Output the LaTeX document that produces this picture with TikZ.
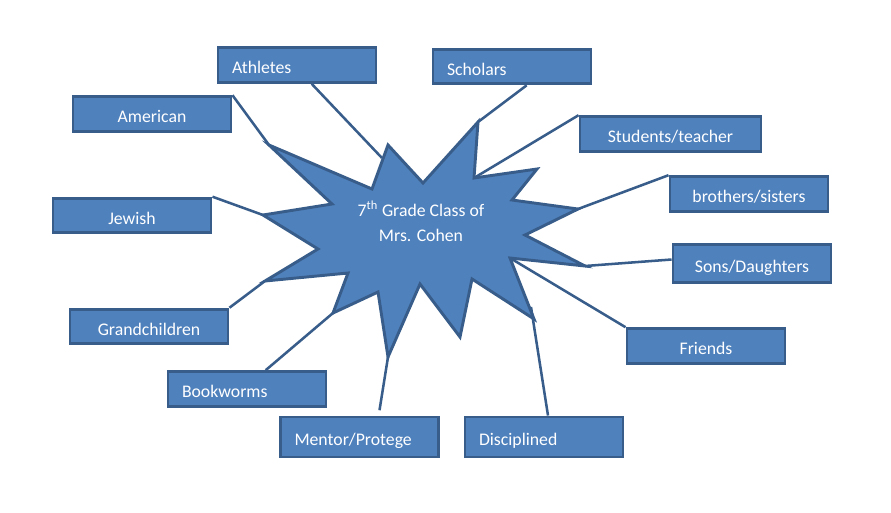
\documentclass[tikz,border=0pt]{standalone}
\usepackage{fontspec}
\setmainfont{Carlito}
\usepackage{tikz}
\usetikzlibrary{positioning}
\definecolor{boxface}{HTML}{4F81BD}
\definecolor{boxedge}{HTML}{385D8A}

\begin{document}
\begin{tikzpicture}[x=0.75pt,y=-0.75pt,
		box/.style={draw=boxedge,fill=boxface,line width=2.2pt,text=white,
			minimum height=26pt,text width=97.5pt,inner xsep=10.5pt,inner ysep=0pt,
			text height=13pt,text depth=0pt,
			align=center,font=\fontsize{13.3pt}{16pt}\selectfont},
		lbox/.style={box,align=left},
		burst/.style={draw=boxedge,fill=boxface,line width=2.2pt,line join=miter},
		link/.style={draw=boxedge,line width=1.9pt},
		title/.style={text=white,align=center,font=\fontsize{13.3pt}{18.75pt}\selectfont},
		]
		\useasboundingbox (0,0) rectangle (891,512);

		\coordinate (s1) at (269,145);
		\coordinate (s2) at (388,145);
		\coordinate (s3) at (478,122);
		\coordinate (s4) at (474,178);
		\coordinate (s5) at (578,209);
		\coordinate (s6) at (585,266);
		\coordinate (s7) at (510,258);
		\coordinate (s8) at (534,319);
		\coordinate (s9) at (388,357);
		\coordinate (s10) at (333,313);
		\coordinate (s11) at (265,281);
		\coordinate (s12) at (263,215);
		\coordinate (e1) at (382,158);
		\coordinate (e2) at (531,307);

		\draw[burst] (s1) -- (372,189) -- (s2) -- (423,183) -- (s3) -- (s4) -- (537,169) -- (512,200) -- (s5) -- (525,235) -- (s6) -- (s7) -- (s8) -- (472,279) -- (460,337) -- (420,284) -- (s9) -- (378,292) -- (s10) -- (348,273) -- (s11) -- (318,249) -- (s12) -- (332,204) -- cycle;

		\node[title](center) at (421,221) {7\textsuperscript{th} Grade Class of\\Mrs. Cohen};

		\node[lbox                    ](athletes) at (297,65)    {Athletes};
		\node[box                     ](american) at (152,114)   {American};
		\node[box                     ](jewish)   at (132,215.5) {Jewish};
		\node[lbox                    ](scholars) at (512,66.5)  {Scholars};
		\node[box,text width=114.75pt ](students) at (670.5,134) {Students/teacher};
		\node[box                     ](siblings) at (749,194)   {brothers/sisters};
		\node[box,minimum height=28pt ](sons)     at (752,263.5) {Sons/Daughters};
		\node[box                     ](grand)    at (149,326.5) {Grandchildren};
		\node[lbox                    ](books)    at (247,389)   {Bookworms};
		\node[lbox,minimum height=30pt](mentor)   at (359.5,437) {Mentor/Protege};
		\node[lbox,minimum height=30pt](disc)     at (544,437)   {Disciplined};
		\node[box                     ](friends)  at (706,346)   {Friends};

		\draw[link] (american.north east) -- (s1);
		\draw[link] ([xshift=11pt]athletes.south) -- (e1);
		\draw[link] (jewish.north east) -- (s12);
		\draw[link] ([xshift=11pt]scholars.south) -- (s3);
		\draw[link] (students.north west) -- (s4);
		\draw[link] (siblings.north west) -- (s5);
		\draw[link] ([yshift=3pt]sons.west) -- (s6);
		\draw[link] (friends.north west) -- (s7);
		\draw[link] ([xshift=3pt]disc.north) -- (e2);
		\draw[link] ([xshift=15pt,yshift=4pt]mentor.north) -- (s9);
		\draw[link] ([xshift=14pt]books.north) -- (s10);
		\draw[link] (grand.north east) -- (s11);
	\end{tikzpicture}
\end{document}
